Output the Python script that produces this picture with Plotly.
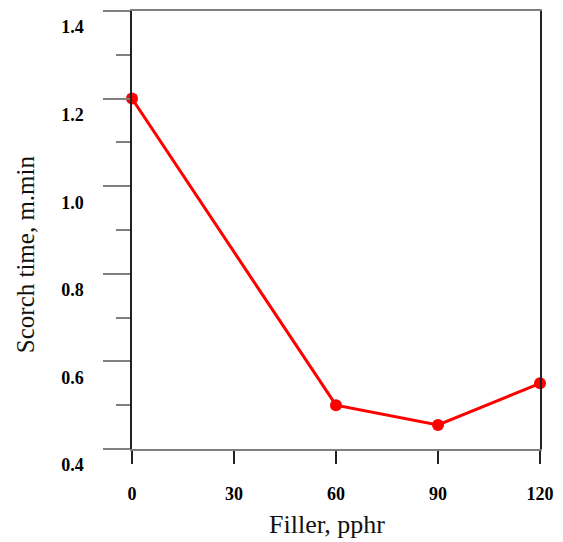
import plotly.graph_objects as go

filler_x = [0, 60, 90, 120]
scorch_time = [1.20, 0.50, 0.455, 0.55]
x_ticks = [0, 30, 60, 90, 120]
y_ticks = [0.4, 0.6, 0.8, 1.0, 1.2, 1.4]
y_tick_text = [f"{v:.1f}" for v in y_ticks]
x_title = "Filler, pphr"
y_title = "Scorch time, m.min"

fig = go.Figure()
fig.add_trace(go.Scatter(
    x=filler_x, y=scorch_time, mode="lines+markers",
    line=dict(color="#ff0000", width=3),
    marker=dict(color="#ff0000", size=12),
    cliponaxis=False, showlegend=False,
))

dark = "#222222"
grey = "#7f7f7f"
serif = "Liberation Serif, Times New Roman, serif"
tick_font = dict(family=serif, size=18, color="#000000", weight="bold")

fig.update_xaxes(
    range=[0, 120], tickvals=x_ticks, ticktext=[str(v) for v in x_ticks],
    showgrid=False, zeroline=False,
    showline=True, linecolor=grey, linewidth=2, mirror=True,
    ticks="outside", ticklen=13, tickwidth=1.5, tickcolor=dark,
    ticklabelstandoff=14,
    tickfont=tick_font,
)
fig.update_yaxes(
    range=[0.4, 1.4], tickvals=y_ticks, ticktext=y_tick_text,
    showgrid=False, zeroline=False,
    showline=True, linecolor=dark, linewidth=1.5, mirror=True,
    ticks="outside", ticklen=27, tickwidth=2, tickcolor=grey,
    minor=dict(dtick=0.1, ticks="outside", ticklen=14, tickwidth=2, tickcolor=grey, showgrid=False),
    ticklabelstandoff=16, ticklabelshift=16,
    tickfont=tick_font,
)
fig.add_annotation(
    text=x_title, xref="paper", yref="paper", x=0.478, y=-0.1735,
    xanchor="center", yanchor="middle", showarrow=False,
    font=dict(family=serif, size=26, color="#111111"),
)
fig.add_annotation(
    text=y_title, xref="paper", yref="paper", x=-0.262, y=0.445,
    xanchor="center", yanchor="middle", showarrow=False, textangle=-90,
    font=dict(family=serif, size=25, color="#111111"),
)
# the page body has an 8px margin, so the figure is sized to fit the window
fig.update_layout(
    width=555, height=534,
    margin=dict(l=124, r=23, t=3, b=93, autoexpand=False),
    paper_bgcolor="white", plot_bgcolor="white",
)
fig.write_html("out.html")
